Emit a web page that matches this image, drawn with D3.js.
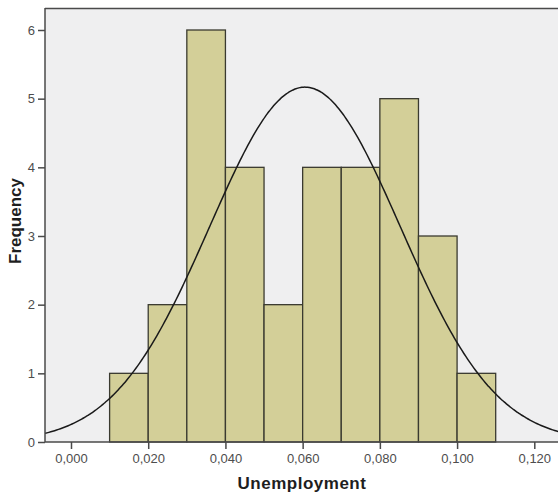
<!DOCTYPE html>
<html>
<head>
<meta charset="utf-8">
<script src="https://cdn.jsdelivr.net/npm/d3@7"></script>
<style>
  html, body { margin: 0; padding: 0; background: #ffffff; }
  svg { display: block; font-family: "Liberation Sans", Arial, sans-serif; }
</style>
</head>
<body>
<svg id="chart" width="558" height="497"></svg>
<script>
// Histogram bins of the unemployment rate (lower edge, upper edge) and counts
const binStarts = [0.01, 0.02, 0.03, 0.04, 0.05, 0.06, 0.07, 0.08, 0.09, 0.10];
const binEnds   = [0.02, 0.03, 0.04, 0.05, 0.06, 0.07, 0.08, 0.09, 0.10, 0.11];
const counts    = [1, 2, 6, 4, 2, 4, 4, 5, 3, 1];

// Axis ticks
const xTicks = [0.00, 0.02, 0.04, 0.06, 0.08, 0.10, 0.12];
const yTicks = [0, 1, 2, 3, 4, 5, 6];

// Fitted normal curve parameters
const curveMean = 0.0606;
const curveSd = 0.0247;
const binWidth = 0.01;
const total = d3.sum(counts);

const svg = d3.select("#chart");
const plot = { left: 45, top: 8, right: 558, bottom: 442 };

const x = d3.scaleLinear().domain([0, 0.12]).range([71, 534.3]);
const y = d3.scaleLinear().domain([0, 6]).range([plot.bottom, 30]);

// Plot background
svg.append("rect")
  .attr("x", plot.left).attr("y", plot.top)
  .attr("width", plot.right - plot.left).attr("height", plot.bottom - plot.top)
  .attr("fill", "#efeff0");

// Top frame line
svg.append("line")
  .attr("x1", plot.left).attr("x2", plot.right)
  .attr("y1", plot.top + 0.5).attr("y2", plot.top + 0.5)
  .attr("stroke", "#4a4a4a").attr("stroke-width", 1.5);

// Bars
const bins = counts.map((c, i) => ({ x0: binStarts[i], x1: binEnds[i], n: c }));
svg.append("g").selectAll("rect")
  .data(bins)
  .join("rect")
  .attr("x", d => x(d.x0))
  .attr("y", d => y(d.n))
  .attr("width", d => x(d.x1) - x(d.x0))
  .attr("height", d => y(0) - y(d.n))
  .attr("fill", "#d3cf98")
  .attr("stroke", "#3a3a30")
  .attr("stroke-width", 1.3);

// Normal curve scaled to frequency
const norm = v => total * binWidth / (curveSd * Math.sqrt(2 * Math.PI)) *
  Math.exp(-0.5 * Math.pow((v - curveMean) / curveSd, 2));
const xs = d3.range(x.invert(plot.left), x.invert(plot.right) + 0.0005, 0.0005);
svg.append("path")
  .datum(xs)
  .attr("d", d3.line().x(v => x(v)).y(v => y(norm(v))).curve(d3.curveBasis))
  .attr("fill", "none")
  .attr("stroke", "#1a1a1a")
  .attr("stroke-width", 1.5);

// Axes
const xAxis = svg.append("g")
  .attr("transform", `translate(0,${plot.bottom})`)
  .call(d3.axisBottom(x).tickValues(xTicks).tickSize(7).tickPadding(5)
    .tickFormat(d => d3.format(".3f")(d).replace(".", ",")));
xAxis.select(".domain").remove();
xAxis.append("line")
  .attr("x1", plot.left).attr("x2", plot.right)
  .attr("stroke", "#4a4a4a").attr("stroke-width", 1.5);

const yAxis = svg.append("g")
  .attr("transform", `translate(${plot.left},0)`)
  .call(d3.axisLeft(y).tickValues(yTicks).tickSize(7).tickPadding(3).tickFormat(d3.format("d")));
yAxis.select(".domain").remove();
yAxis.append("line")
  .attr("y1", plot.top).attr("y2", plot.bottom)
  .attr("stroke", "#4a4a4a").attr("stroke-width", 1.5);

svg.selectAll(".tick line").attr("stroke", "#4a4a4a").attr("stroke-width", 1.5);
svg.selectAll(".tick text")
  .attr("fill", "#4d4d4d")
  .style("font-size", "13px")
  .style("font-family", "'Liberation Sans', Arial, sans-serif");

// Axis titles
svg.append("text")
  .attr("x", 302).attr("y", 489)
  .attr("text-anchor", "middle")
  .attr("font-size", "17px").attr("font-weight", "bold").attr("fill", "#1e1e1e")
  .attr("letter-spacing", "0.5px")
  .text("Unemployment");

svg.append("text")
  .attr("transform", "translate(21,221) rotate(-90)")
  .attr("text-anchor", "middle")
  .attr("font-size", "17px").attr("font-weight", "bold").attr("fill", "#1e1e1e")
  .text("Frequency");
</script>
</body>
</html>
